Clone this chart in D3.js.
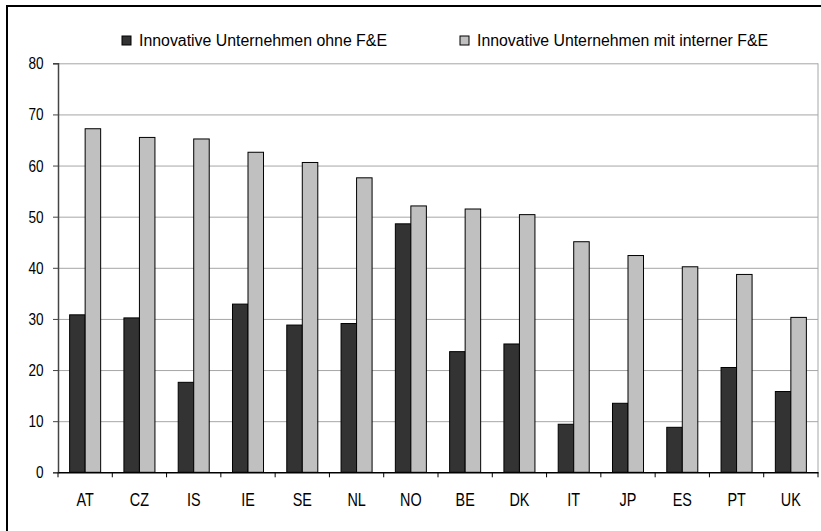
<!DOCTYPE html>
<html>
<head>
<meta charset="utf-8">
<script src="https://cdn.jsdelivr.net/npm/d3@7"></script>
<style>
  body { margin: 0; background: #fff; }
  svg { display: block; }
  text { font-family: "Liberation Sans Narrow", "Arial Narrow", "Liberation Sans", Arial, sans-serif; fill: #000; }
</style>
</head>
<body>
<svg id="chart" width="821" height="531"></svg>
<script>
const categories = ["AT","CZ","IS","IE","SE","NL","NO","BE","DK","IT","JP","ES","PT","UK"];
const ohneFE = [30.8,30.2,17.6,32.9,28.8,29.1,48.6,23.6,25.1,9.4,13.5,8.8,20.5,15.8];
const mitFE  = [67.2,65.5,65.2,62.6,60.6,57.6,52.1,51.5,50.4,45.1,42.4,40.2,38.7,30.3];
const seriesNames = ["Innovative Unternehmen ohne F&E", "Innovative Unternehmen mit interner F&E"];
const seriesColors = ["#333333", "#c0c0c0"];
const yTicks = [0,10,20,30,40,50,60,70,80];

const svg = d3.select("#chart");
const pLeft = 58, pRight = 818, pTop = 63.3, pBottom = 472.3;
const narrow = "scale(0.8,1)";

// outer frame
svg.append("rect").attr("x", 7).attr("y", 6).attr("width", 840).attr("height", 560)
  .attr("fill", "none").attr("stroke", "#000").attr("stroke-width", 2);

const x = d3.scaleBand().domain(categories).range([pLeft, pRight]).paddingInner(0).paddingOuter(0);
const x1 = d3.scaleBand().domain([0, 1]).range([0, x.bandwidth()]).paddingInner(0).paddingOuter(0.75);
const y = d3.scaleLinear().domain([0, 80]).range([pBottom, pTop]);

// gridlines
svg.append("g").attr("transform", `translate(${pLeft},0)`)
  .call(d3.axisLeft(y).tickValues(yTicks.filter(t => t > 0)).tickSize(-(pRight - pLeft)).tickFormat(""))
  .call(g => g.select(".domain").remove())
  .call(g => g.selectAll("line").attr("stroke", "#a6a6a6").attr("stroke-width", 1));

// plot right border
svg.append("line").attr("x1", pRight).attr("x2", pRight).attr("y1", pTop).attr("y2", pBottom)
  .attr("stroke", "#a6a6a6");

// bars
const rows = categories.map((c, i) => ({ c, vals: [ohneFE[i], mitFE[i]] }));
const grp = svg.append("g").selectAll("g").data(rows).join("g")
  .attr("transform", d => `translate(${x(d.c)},0)`);
grp.selectAll("rect").data(d => d.vals.map((v, k) => ({ v, k }))).join("rect")
  .attr("x", d => x1(d.k))
  .attr("width", x1.bandwidth())
  .attr("y", d => y(d.v))
  .attr("height", d => y(0) - y(d.v))
  .attr("fill", d => seriesColors[d.k])
  .attr("stroke", "#000").attr("stroke-width", 1);

// y axis
svg.append("g").attr("transform", `translate(${pLeft},0)`)
  .call(d3.axisLeft(y).tickValues(yTicks).tickSize(5))
  .call(g => g.select(".domain").attr("stroke", "#444").attr("stroke-width", 1.5))
  .call(g => g.selectAll("line").attr("stroke", "#444"))
  .call(g => g.selectAll("text").attr("font-size", 17).attr("x", -18).attr("transform", narrow));

// x axis
const xa = svg.append("g").attr("transform", `translate(0,${pBottom})`)
  .call(d3.axisBottom(x).tickSize(0).tickPadding(21))
  .call(g => g.select(".domain").attr("stroke", "#000").attr("stroke-width", 1.5))
  .call(g => g.selectAll("text").attr("font-size", 18).attr("transform", narrow));
xa.selectAll("line.sep").data(categories.map(c => x(c)).concat([pRight])).join("line")
  .attr("class", "sep")
  .attr("x1", d => d).attr("x2", d => d).attr("y1", 0).attr("y2", 5)
  .attr("stroke", "#000");

// legend
const legX = [122, 460];
const legLen = [248, 291];
const leg = svg.append("g").selectAll("g").data(seriesNames).join("g")
  .attr("transform", (d, i) => `translate(${legX[i]},36)`);
leg.append("rect").attr("width", 9).attr("height", 9)
  .attr("fill", (d, i) => seriesColors[i]).attr("stroke", "#000");
leg.append("text").attr("x", 17).attr("y", 4.5).attr("dy", "0.35em")
  .attr("font-size", 16)
  .attr("textLength", (d, i) => legLen[i]).attr("lengthAdjust", "spacingAndGlyphs")
  .text(d => d);
</script>
</body>
</html>
